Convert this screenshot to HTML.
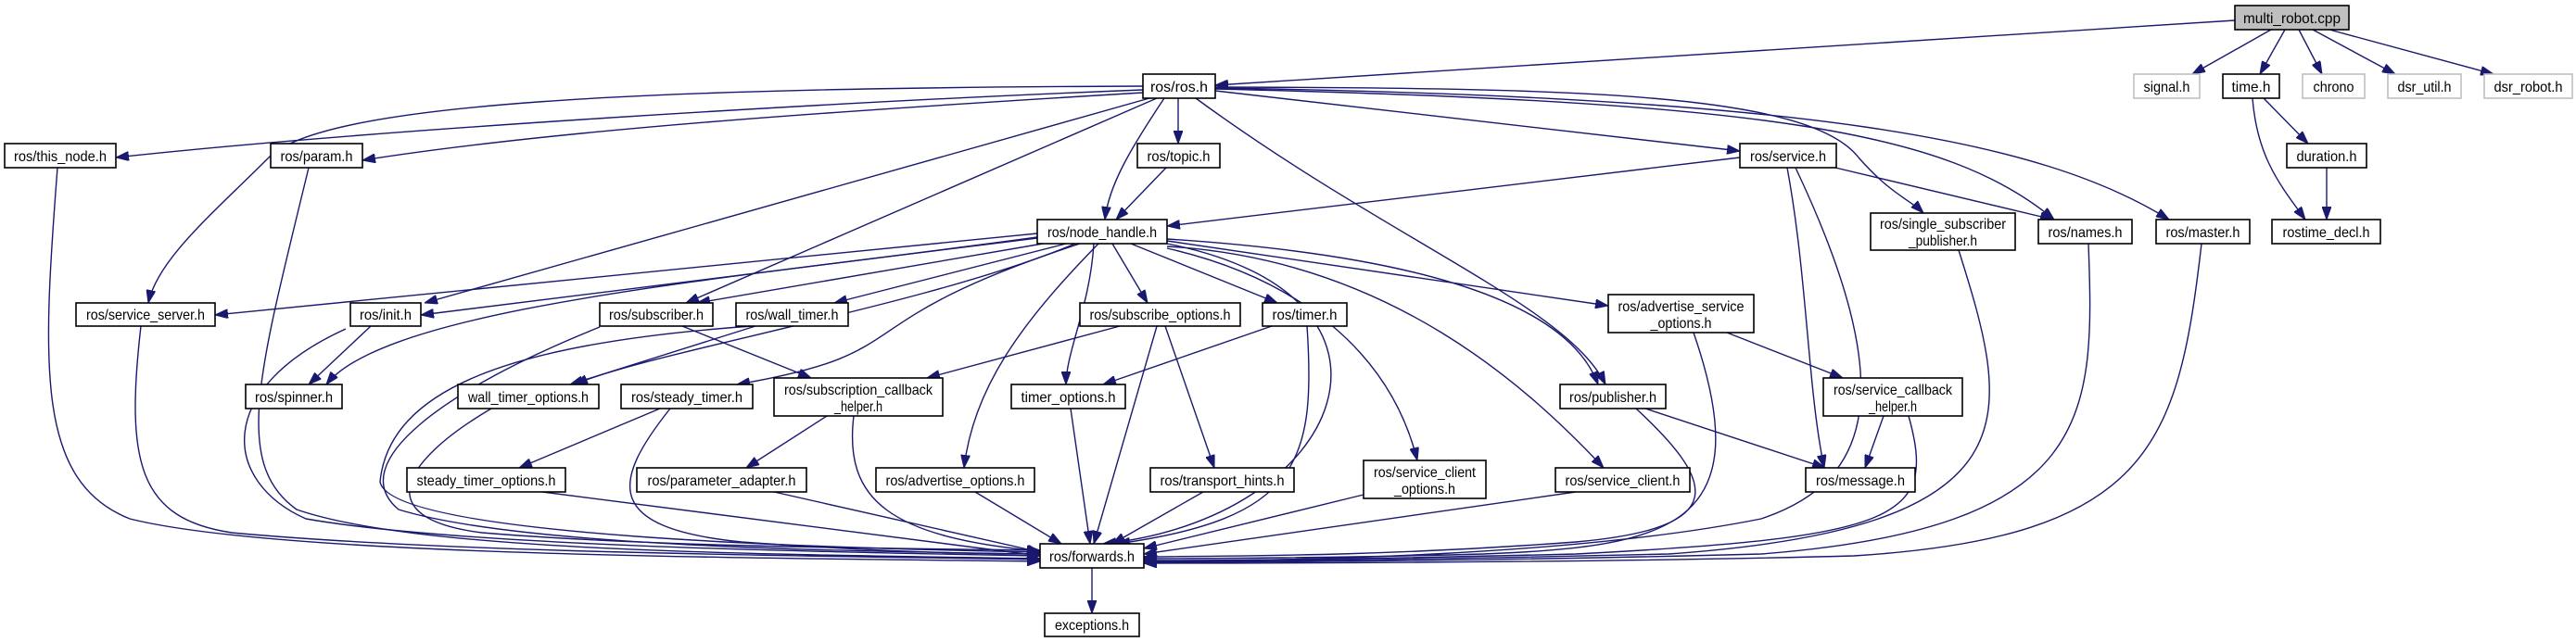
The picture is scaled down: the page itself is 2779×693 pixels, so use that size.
<!DOCTYPE html>
<html><head><meta charset="utf-8"><style>
html,body{margin:0;padding:0;background:#fff;}
svg{display:block;}
text{font-family:"Liberation Sans",sans-serif;font-size:16px;fill:#000;}
.n{fill:#fff;stroke:#000;stroke-width:1.6;}
.g{fill:#fff;stroke:#bfbfbf;stroke-width:1.6;}
.e{fill:none;stroke:#191970;stroke-width:1.4;}
</style></head><body>
<svg width="2779" height="693" viewBox="0 0 2779 693" xmlns="http://www.w3.org/2000/svg">
<defs><marker id="a" markerUnits="userSpaceOnUse" markerWidth="14" markerHeight="10" refX="14" refY="5" orient="auto"><path d="M0,0 L14,5 L0,10 z" fill="#191970" stroke="#191970"/></marker></defs>
<g marker-end="url(#a)">
<path class="e" d="M2411,22 L1311,92"/>
<path class="e" d="M2450,32 L2365,80"/>
<path class="e" d="M2465,32 L2438,80"/>
<path class="e" d="M2480,32 L2505,80"/>
<path class="e" d="M2495,32 L2584,80"/>
<path class="e" d="M2513,32 L2690,80"/>
<path class="e" d="M2442,106 L2490,155"/>
<path class="e" d="M2430,106 C2435,170 2460,200 2487,237"/>
<path class="e" d="M2510,181 L2510,237"/>
<path class="e" d="M1233,97 C900,110 400,140 125,170"/>
<path class="e" d="M1233,100 C900,120 600,140 391,173"/>
<path class="e" d="M1233,93 C700,95 350,110 290,170 C230,230 170,280 160,327"/>
<path class="e" d="M1240,106 L458,327"/>
<path class="e" d="M1248,106 L740,327"/>
<path class="e" d="M1271,106 L1271,155"/>
<path class="e" d="M1256,106 C1220,160 1196,200 1192,237"/>
<path class="e" d="M1311,98 L1877,163"/>
<path class="e" d="M1311,94 C1700,95 1950,100 2005,170 C2040,210 2060,215 2075,230"/>
<path class="e" d="M1311,96 C1900,110 2100,140 2216,237"/>
<path class="e" d="M1311,95 C1950,105 2200,150 2340,237"/>
<path class="e" d="M1290,106 C1500,260 1690,330 1732,415"/>
<path class="e" d="M1258,181 L1204,237"/>
<path class="e" d="M1877,170 L1259,244"/>
<path class="e" d="M1980,181 L2215,237"/>
<path class="e" d="M1928,181 C1950,300 1950,420 1968,505"/>
<path class="e" d="M1937,181 C2050,420 2020,520 1900,560 C1700,600 1400,605 1234,606"/>
<path class="e" d="M1119,252 L232,340"/>
<path class="e" d="M1119,256 C800,300 420,330 352,415"/>
<path class="e" d="M1119,257 L454,340"/>
<path class="e" d="M1125,263 L752,327"/>
<path class="e" d="M1150,263 L900,327"/>
<path class="e" d="M1160,263 C1000,330 700,380 620,415"/>
<path class="e" d="M1165,263 C900,350 1000,380 795,415"/>
<path class="e" d="M1200,263 L1238,327"/>
<path class="e" d="M1220,263 L1378,327"/>
<path class="e" d="M1180,263 C1176,330 1150,380 1150,415"/>
<path class="e" d="M1185,263 C1100,350 1050,420 1040,505"/>
<path class="e" d="M1259,268 C1400,300 1500,380 1529,497"/>
<path class="e" d="M1259,266 C1500,280 1650,420 1730,505"/>
<path class="e" d="M1259,258 C1600,280 1700,350 1724,415"/>
<path class="e" d="M1259,260 L1735,330"/>
<path class="e" d="M1259,263 C1550,320 1450,560 1190,587"/>
<path class="e" d="M62,181 C45,400 40,520 140,560 C300,600 800,602 1122,606"/>
<path class="e" d="M333,181 C280,400 250,500 320,550 C450,595 800,598 1122,603"/>
<path class="e" d="M152,352 C135,500 150,560 250,575 C500,598 900,600 1122,604"/>
<path class="e" d="M400,352 L333,415"/>
<path class="e" d="M373,355 C230,420 240,520 330,560 C500,590 900,596 1122,600"/>
<path class="e" d="M736,352 L875,408"/>
<path class="e" d="M647,353 C480,420 370,500 430,550 C560,590 900,595 1122,598"/>
<path class="e" d="M815,352 L615,415"/>
<path class="e" d="M812,352 C550,370 420,420 410,520 C420,580 900,592 1122,596"/>
<path class="e" d="M1208,352 L1000,408"/>
<path class="e" d="M1257,352 L1310,505"/>
<path class="e" d="M1248,352 L1180,587"/>
<path class="e" d="M1372,352 L1190,415"/>
<path class="e" d="M1410,352 C1420,500 1400,560 1205,587"/>
<path class="e" d="M530,441 C430,500 400,560 520,575 C700,590 950,592 1122,594"/>
<path class="e" d="M712,441 L560,505"/>
<path class="e" d="M723,441 C660,520 650,570 800,585 C950,596 1050,598 1122,598"/>
<path class="e" d="M892,449 L805,505"/>
<path class="e" d="M921,449 C910,540 960,580 1122,595"/>
<path class="e" d="M1155,441 L1176,587"/>
<path class="e" d="M585,531 L1122,600"/>
<path class="e" d="M835,531 L1122,596"/>
<path class="e" d="M1052,531 L1145,587"/>
<path class="e" d="M1298,531 L1200,587"/>
<path class="e" d="M1471,534 L1234,592"/>
<path class="e" d="M1700,531 L1234,598"/>
<path class="e" d="M1775,441 L1969,505"/>
<path class="e" d="M1765,441 C1850,520 1870,570 1700,585 C1500,600 1350,600 1234,601"/>
<path class="e" d="M1863,359 L1988,408"/>
<path class="e" d="M1827,359 C1900,570 1800,590 1600,598 C1450,602 1300,603 1234,603"/>
<path class="e" d="M2032,449 L2012,505"/>
<path class="e" d="M2059,449 C2090,560 2050,580 1700,598 C1450,604 1300,605 1234,605"/>
<path class="e" d="M2113,270 C2170,450 2200,570 1800,598 C1500,605 1300,606 1234,606"/>
<path class="e" d="M2253,263 C2260,450 2260,570 1900,598 C1600,606 1300,607 1234,607"/>
<path class="e" d="M2375,263 C2350,480 2320,580 2000,600 C1700,608 1300,608 1234,608"/>
<path class="e" d="M1178,613 L1178,662"/>
</g>
<g>
<rect x="2411" y="6" width="123" height="26" fill="#bfbfbf" stroke="#000" stroke-width="1.6"/><text x="2472.5" y="25" text-anchor="middle" textLength="105" lengthAdjust="spacingAndGlyphs">multi_robot.cpp</text>
<rect class="n" x="1233" y="80" width="78" height="26"/><text x="1272" y="99" text-anchor="middle" textLength="62" lengthAdjust="spacingAndGlyphs">ros/ros.h</text>
<rect class="g" x="2302" y="80" width="71" height="26"/><text x="2337.5" y="99" text-anchor="middle" textLength="50" lengthAdjust="spacingAndGlyphs">signal.h</text>
<rect class="n" x="2398" y="80" width="61" height="26"/><text x="2428.5" y="99" text-anchor="middle" textLength="42" lengthAdjust="spacingAndGlyphs">time.h</text>
<rect class="g" x="2484" y="80" width="67" height="26"/><text x="2517.5" y="99" text-anchor="middle" textLength="44" lengthAdjust="spacingAndGlyphs">chrono</text>
<rect class="g" x="2576" y="80" width="79" height="26"/><text x="2615.5" y="99" text-anchor="middle" textLength="58" lengthAdjust="spacingAndGlyphs">dsr_util.h</text>
<rect class="g" x="2680" y="80" width="95" height="26"/><text x="2727.5" y="99" text-anchor="middle" textLength="74" lengthAdjust="spacingAndGlyphs">dsr_robot.h</text>
<rect class="n" x="5" y="155" width="120" height="26"/><text x="65" y="174" text-anchor="middle" textLength="100" lengthAdjust="spacingAndGlyphs">ros/this_node.h</text>
<rect class="n" x="292" y="155" width="99" height="26"/><text x="341.5" y="174" text-anchor="middle" textLength="78" lengthAdjust="spacingAndGlyphs">ros/param.h</text>
<rect class="n" x="1227" y="155" width="89" height="26"/><text x="1271.5" y="174" text-anchor="middle" textLength="68" lengthAdjust="spacingAndGlyphs">ros/topic.h</text>
<rect class="n" x="1877" y="155" width="104" height="26"/><text x="1929" y="174" text-anchor="middle" textLength="82" lengthAdjust="spacingAndGlyphs">ros/service.h</text>
<rect class="n" x="2467" y="155" width="86" height="26"/><text x="2510" y="174" text-anchor="middle" textLength="65" lengthAdjust="spacingAndGlyphs">duration.h</text>
<rect class="n" x="2018" y="230" width="156" height="40"/><text x="2096" y="247" text-anchor="middle" textLength="136" lengthAdjust="spacingAndGlyphs">ros/single_subscriber</text><text x="2096" y="265" text-anchor="middle" textLength="74" lengthAdjust="spacingAndGlyphs">_publisher.h</text>
<rect class="n" x="2199" y="237" width="101" height="26"/><text x="2249.5" y="256" text-anchor="middle" textLength="80" lengthAdjust="spacingAndGlyphs">ros/names.h</text>
<rect class="n" x="2326" y="237" width="101" height="26"/><text x="2376.5" y="256" text-anchor="middle" textLength="80" lengthAdjust="spacingAndGlyphs">ros/master.h</text>
<rect class="n" x="2451" y="237" width="117" height="26"/><text x="2509.5" y="256" text-anchor="middle" textLength="94" lengthAdjust="spacingAndGlyphs">rostime_decl.h</text>
<rect class="n" x="1119" y="237" width="140" height="26"/><text x="1189" y="256" text-anchor="middle" textLength="118" lengthAdjust="spacingAndGlyphs">ros/node_handle.h</text>
<rect class="n" x="82" y="327" width="150" height="25"/><text x="157" y="345" text-anchor="middle" textLength="128" lengthAdjust="spacingAndGlyphs">ros/service_server.h</text>
<rect class="n" x="378" y="327" width="76" height="25"/><text x="416" y="345" text-anchor="middle" textLength="56" lengthAdjust="spacingAndGlyphs">ros/init.h</text>
<rect class="n" x="647" y="327" width="122" height="25"/><text x="708" y="345" text-anchor="middle" textLength="102" lengthAdjust="spacingAndGlyphs">ros/subscriber.h</text>
<rect class="n" x="794" y="327" width="121" height="25"/><text x="854.5" y="345" text-anchor="middle" textLength="100" lengthAdjust="spacingAndGlyphs">ros/wall_timer.h</text>
<rect class="n" x="1165" y="327" width="173" height="25"/><text x="1251.5" y="345" text-anchor="middle" textLength="152" lengthAdjust="spacingAndGlyphs">ros/subscribe_options.h</text>
<rect class="n" x="1362" y="327" width="91" height="25"/><text x="1407.5" y="345" text-anchor="middle" textLength="70" lengthAdjust="spacingAndGlyphs">ros/timer.h</text>
<rect class="n" x="1735" y="318" width="157" height="41"/><text x="1813.5" y="336" text-anchor="middle" textLength="136" lengthAdjust="spacingAndGlyphs">ros/advertise_service</text><text x="1813.5" y="354" text-anchor="middle" textLength="66" lengthAdjust="spacingAndGlyphs">_options.h</text>
<rect class="n" x="265" y="415" width="104" height="26"/><text x="317" y="434" text-anchor="middle" textLength="84" lengthAdjust="spacingAndGlyphs">ros/spinner.h</text>
<rect class="n" x="494" y="415" width="152" height="26"/><text x="570" y="434" text-anchor="middle" textLength="130" lengthAdjust="spacingAndGlyphs">wall_timer_options.h</text>
<rect class="n" x="670" y="415" width="142" height="26"/><text x="741" y="434" text-anchor="middle" textLength="120" lengthAdjust="spacingAndGlyphs">ros/steady_timer.h</text>
<rect class="n" x="835" y="408" width="182" height="41"/><text x="926" y="426" text-anchor="middle" textLength="160" lengthAdjust="spacingAndGlyphs">ros/subscription_callback</text><text x="926" y="444" text-anchor="middle" textLength="52" lengthAdjust="spacingAndGlyphs">_helper.h</text>
<rect class="n" x="1091" y="415" width="123" height="26"/><text x="1152.5" y="434" text-anchor="middle" textLength="102" lengthAdjust="spacingAndGlyphs">timer_options.h</text>
<rect class="n" x="1683" y="415" width="114" height="26"/><text x="1740" y="434" text-anchor="middle" textLength="94" lengthAdjust="spacingAndGlyphs">ros/publisher.h</text>
<rect class="n" x="1967" y="408" width="150" height="41"/><text x="2042" y="426" text-anchor="middle" textLength="128" lengthAdjust="spacingAndGlyphs">ros/service_callback</text><text x="2042" y="444" text-anchor="middle" textLength="52" lengthAdjust="spacingAndGlyphs">_helper.h</text>
<rect class="n" x="439" y="505" width="171" height="26"/><text x="524.5" y="524" text-anchor="middle" textLength="150" lengthAdjust="spacingAndGlyphs">steady_timer_options.h</text>
<rect class="n" x="687" y="505" width="183" height="26"/><text x="778.5" y="524" text-anchor="middle" textLength="160" lengthAdjust="spacingAndGlyphs">ros/parameter_adapter.h</text>
<rect class="n" x="945" y="505" width="171" height="26"/><text x="1030.5" y="524" text-anchor="middle" textLength="150" lengthAdjust="spacingAndGlyphs">ros/advertise_options.h</text>
<rect class="n" x="1241" y="505" width="155" height="26"/><text x="1318.5" y="524" text-anchor="middle" textLength="134" lengthAdjust="spacingAndGlyphs">ros/transport_hints.h</text>
<rect class="n" x="1471" y="497" width="132" height="41"/><text x="1537" y="515" text-anchor="middle" textLength="110" lengthAdjust="spacingAndGlyphs">ros/service_client</text><text x="1537" y="533" text-anchor="middle" textLength="66" lengthAdjust="spacingAndGlyphs">_options.h</text>
<rect class="n" x="1678" y="505" width="145" height="26"/><text x="1750.5" y="524" text-anchor="middle" textLength="124" lengthAdjust="spacingAndGlyphs">ros/service_client.h</text>
<rect class="n" x="1948" y="505" width="118" height="26"/><text x="2007" y="524" text-anchor="middle" textLength="96" lengthAdjust="spacingAndGlyphs">ros/message.h</text>
<rect class="n" x="1122" y="587" width="112" height="26"/><text x="1178" y="606" text-anchor="middle" textLength="92" lengthAdjust="spacingAndGlyphs">ros/forwards.h</text>
<rect class="n" x="1127" y="662" width="102" height="25"/><text x="1178" y="680" text-anchor="middle" textLength="80" lengthAdjust="spacingAndGlyphs">exceptions.h</text>
</g>
</svg>
</body></html>
